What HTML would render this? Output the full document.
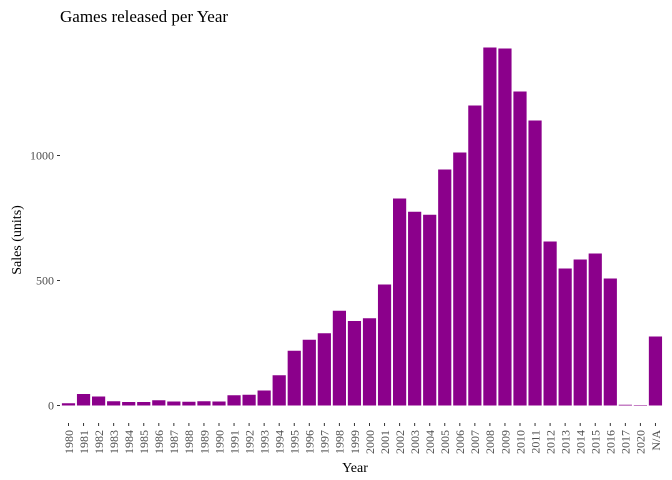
<!DOCTYPE html>
<html><head><meta charset="utf-8"><style>
body{margin:0;background:#fff}
svg{display:block;font-family:"Liberation Serif",serif}
</style></head><body>
<svg id="c" width="672" height="480">
<text x="60" y="22" font-size="17" fill="#000">Games released per Year</text>
<text x="355" y="472" font-size="14" text-anchor="middle" fill="#000">Year</text>
<text transform="translate(21,240) rotate(-90)" font-size="14" text-anchor="middle" fill="#000">Sales (units)</text>
<g id="bars"></g><g id="xt"></g><g id="yt"></g>
</svg>
<script>
const categories=["1980","1981","1982","1983","1984","1985","1986","1987","1988","1989","1990","1991","1992","1993","1994","1995","1996","1997","1998","1999","2000","2001","2002","2003","2004","2005","2006","2007","2008","2009","2010","2011","2012","2013","2014","2015","2016","2017","2020","N/A"];
const counts=[9,46,36,17,14,14,21,16,15,17,16,41,43,60,121,219,263,289,379,338,349,484,828,775,763,944,1012,1200,1432,1428,1256,1140,656,548,584,608,508,3,2,276];
const yTicks=[0,500,1000];
const ns="http://www.w3.org/2000/svg";
function x(i){return 68.5+i*15.05;}
function y(v){return 405.5-v*0.25;}
const bars=document.getElementById('bars'),xt=document.getElementById('xt'),yt=document.getElementById('yt');
categories.forEach((c,i)=>{
  const r=document.createElementNS(ns,'rect');
  r.setAttribute('x',x(i)-6.6);r.setAttribute('width',13.2);
  r.setAttribute('y',y(counts[i]));r.setAttribute('height',Math.max(0,405.5-y(counts[i])));
  r.setAttribute('fill','#8B008B');
  
  
  bars.appendChild(r);
  const l=document.createElementNS(ns,'line');
  l.setAttribute('x1',x(i));l.setAttribute('x2',x(i));l.setAttribute('y1',423);l.setAttribute('y2',426);
  l.setAttribute('stroke','#333');
  
  
  xt.appendChild(l);
  const t=document.createElementNS(ns,'text');
  t.setAttribute('transform','translate('+(x(i)+4.3)+',430) rotate(-90)');
  t.setAttribute('text-anchor','end');t.setAttribute('font-size','12');t.setAttribute('fill','#4d4d4d');
  t.textContent=c;
  
  
  xt.appendChild(t);
});
yTicks.forEach(v=>{
  const l=document.createElementNS(ns,'line');
  l.setAttribute('x1',57);l.setAttribute('x2',60);l.setAttribute('y1',y(v));l.setAttribute('y2',y(v));
  l.setAttribute('stroke','#333');
  
  
  yt.appendChild(l);
  const t=document.createElementNS(ns,'text');
  t.setAttribute('x',54);t.setAttribute('y',y(v)+4);t.setAttribute('text-anchor','end');
  t.setAttribute('font-size','12');t.setAttribute('fill','#4d4d4d');
  t.textContent=v;
  
  
  yt.appendChild(t);
});
</script>
</body></html>
